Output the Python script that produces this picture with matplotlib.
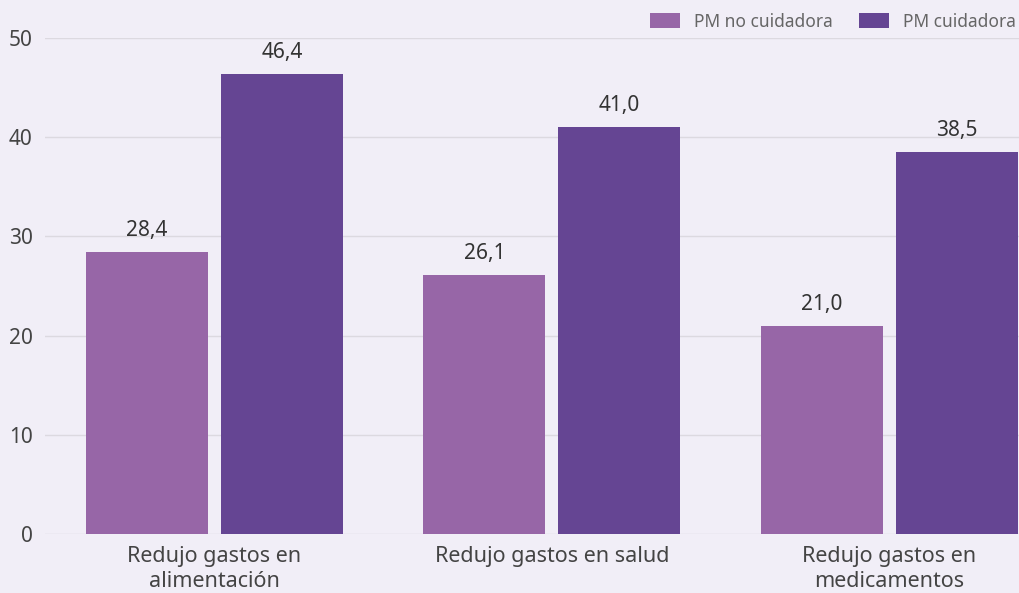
import matplotlib
matplotlib.use("Agg")
import matplotlib.pyplot as plt
import numpy as np

categories = ["Redujo gastos en\nalimentación", "Redujo gastos en salud", "Redujo gastos en\nmedicamentos"]
series_names = ["PM no cuidadora", "PM cuidadora"]
no_cuidadora = [28.4, 26.1, 21.0]
cuidadora = [46.4, 41.0, 38.5]
yticks = [0, 10, 20, 30, 40, 50]

plt.rcParams['font.family'] = ['Noto Sans', 'DejaVu Sans']
bg = "#F1EEF7"
c1 = "#9766A7"
c2 = "#654593"

fig = plt.figure(figsize=(10.2, 5.93), dpi=100, facecolor=bg)
ax = fig.add_axes([0.0441, 0.0995, 0.9559, 0.8364], facecolor=bg)

x = np.arange(len(categories))
w = 0.3615
off = 0.2
b1 = ax.bar(x - off, no_cuidadora, w, color=c1, label=series_names[0], zorder=3)
b2 = ax.bar(x + off, cuidadora, w, color=c2, label=series_names[1], zorder=3)

def fmt(v):
    return f"{v:.1f}".replace(".", ",")

for bars, vals in ((b1, no_cuidadora), (b2, cuidadora)):
    for b, v in zip(bars, vals):
        ax.text(b.get_x() + b.get_width() / 2, v + 1.1, fmt(v), ha="center", va="bottom",
                fontsize=15, color="#333333", zorder=4)

ax.set_xlim(-0.502, 2.387)
ax.set_ylim(0, 50)
ax.set_yticks(yticks)
ax.set_yticklabels([str(t) for t in yticks])
ax.set_xticks(x)
ax.set_xticklabels(categories)
ax.tick_params(axis="y", length=0, labelsize=15, labelcolor="#444444", pad=9)
ax.tick_params(axis="x", length=0, labelsize=15.5, labelcolor="#444444", pad=9)
for lbl in ax.get_xticklabels():
    lbl.set_linespacing(1.2)
ax.yaxis.grid(True, color="#DCD9E0", linewidth=1, zorder=0)
for s in ax.spines.values():
    s.set_visible(False)

leg = ax.legend(loc="upper right", bbox_to_anchor=(1.003, 1.065), ncol=2, frameon=False,
                fontsize=12.5, handlelength=1.75, handleheight=0.95, columnspacing=1.5,
                handletextpad=0.8, borderaxespad=0)
for t in leg.get_texts():
    t.set_color("#666666")

fig.savefig("out.png", dpi=100, facecolor=bg)
